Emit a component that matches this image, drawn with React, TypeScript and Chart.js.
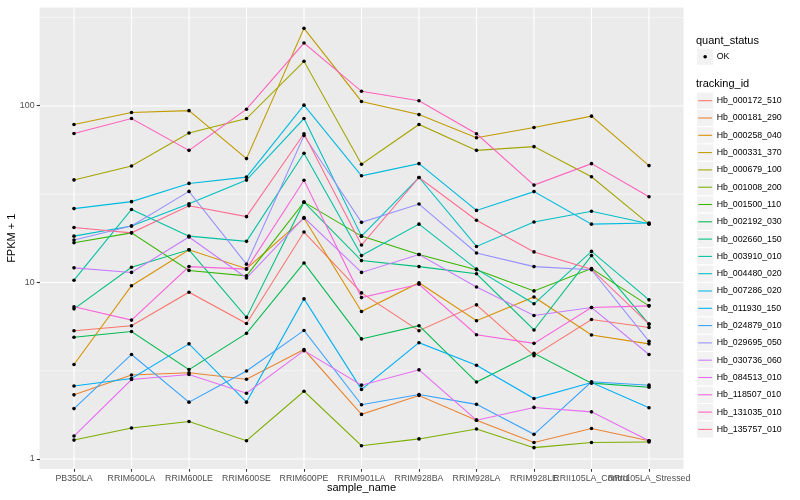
import React, { useEffect, useRef } from "react";
import { Chart, registerables } from "chart.js";

Chart.register(...registerables);

const categories = [
  "PB350LA", "RRIM600LA", "RRIM600LE", "RRIM600SE", "RRIM600PE", "RRIM901LA",
  "RRIM928BA", "RRIM928LA", "RRIM928LE", "RRII105LA_Control", "RRII105LA_Stressed",
];

const yBreaks = [1, 10, 100];
const yMinorBreaks = [3.162, 31.62, 316.2];

const hb_000172_510 = [5.33, 5.69, 8.81, 5.86, 19.3, 8.73, 5.33, 7.47, 3.85, 6.17, 5.56];
const hb_000181_290 = [2.31, 2.99, 3.08, 2.83, 4.17, 1.79, 2.29, 1.66, 1.24, 1.49, 1.27];
const hb_000258_040 = [3.43, 9.59, 15.3, 11.96, 23.1, 6.85, 9.97, 6.07, 8.28, 5.04, 4.49];
const hb_000331_370 = [78.5, 91.7, 94.0, 50.3, 275, 106, 89.3, 66.0, 75.5, 87.5, 45.9];
const hb_000679_100 = [38.1, 45.7, 70.2, 84.8, 179, 46.7, 78.5, 56.0, 58.8, 39.7, 21.4];
const hb_001008_200 = [1.28, 1.50, 1.63, 1.27, 2.42, 1.19, 1.30, 1.48, 1.16, 1.24, 1.25];
const hb_001500_110 = [16.8, 19.1, 11.7, 10.9, 28.5, 18.3, 14.4, 11.8, 8.96, 12.0, 7.37];
const hb_002192_030 = [4.89, 5.28, 3.21, 5.15, 12.9, 4.79, 5.69, 2.73, 3.97, 2.69, 2.55];
const hb_002660_150 = [7.09, 12.2, 15.3, 6.34, 28.5, 13.3, 12.3, 11.2, 5.38, 14.2, 5.81];
const hb_003910_010 = [10.3, 25.9, 18.3, 17.1, 53.9, 14.2, 21.4, 11.9, 7.57, 15.0, 7.97];
const hb_004480_020 = [18.3, 20.9, 27.9, 38.0, 84.8, 18.3, 39.3, 16.0, 22.0, 25.3, 21.5];
const hb_007286_020 = [26.2, 28.7, 36.4, 39.5, 101, 40.2, 47.1, 25.6, 32.7, 21.4, 21.7];
const hb_011930_150 = [2.59, 2.86, 4.49, 2.10, 8.07, 2.48, 4.56, 3.40, 2.20, 2.71, 1.95];
const hb_024879_010 = [1.93, 3.91, 2.10, 3.15, 5.35, 2.03, 2.32, 2.04, 1.38, 2.74, 2.62];
const hb_029695_050 = [17.4, 20.9, 32.8, 12.7, 68.0, 21.9, 27.8, 14.7, 12.3, 11.8, 4.64];
const hb_030736_060 = [12.1, 11.4, 18.1, 10.6, 23.3, 11.4, 14.4, 9.43, 6.50, 7.21, 3.91];
const hb_084513_010 = [1.35, 2.82, 3.01, 2.36, 4.11, 2.62, 3.20, 1.66, 1.96, 1.85, 1.27];
const hb_118507_010 = [7.28, 6.12, 12.3, 11.9, 37.9, 8.21, 9.77, 5.06, 4.52, 7.21, 7.37];
const hb_131035_010 = [69.8, 84.8, 56.0, 95.8, 227, 121, 107, 69.5, 35.6, 47.1, 30.6];
const hb_135757_010 = [20.5, 19.1, 27.2, 23.6, 69.5, 16.3, 39.3, 22.5, 14.9, 11.9, 5.81];

const trackingIds = [
  "Hb_000172_510", "Hb_000181_290", "Hb_000258_040", "Hb_000331_370", "Hb_000679_100",
  "Hb_001008_200", "Hb_001500_110", "Hb_002192_030", "Hb_002660_150", "Hb_003910_010",
  "Hb_004480_020", "Hb_007286_020", "Hb_011930_150", "Hb_024879_010", "Hb_029695_050",
  "Hb_030736_060", "Hb_084513_010", "Hb_118507_010", "Hb_131035_010", "Hb_135757_010",
];

const seriesValues = [
  hb_000172_510, hb_000181_290, hb_000258_040, hb_000331_370, hb_000679_100,
  hb_001008_200, hb_001500_110, hb_002192_030, hb_002660_150, hb_003910_010,
  hb_004480_020, hb_007286_020, hb_011930_150, hb_024879_010, hb_029695_050,
  hb_030736_060, hb_084513_010, hb_118507_010, hb_131035_010, hb_135757_010,
];

const palette = [
  "#F8766D", "#EA8331", "#D89000", "#C09B00", "#A3A500", "#7CAE00", "#39B600",
  "#00BB4E", "#00BF7D", "#00C1A3", "#00BFC4", "#00BAE0", "#00B0F6", "#35A2FF",
  "#9590FF", "#C77CFF", "#E76BF3", "#FA62DB", "#FF62BC", "#FF6C91",
];

const FONT = '"Liberation Sans", Arial, sans-serif';

const ggPlugin = {
  id: "ggStyle",
  beforeDraw(chart: any) {
    const { ctx, chartArea: a, scales } = chart;
    ctx.save();
    ctx.fillStyle = "#FFFFFF";
    ctx.fillRect(0, 0, chart.width, chart.height);
    ctx.fillStyle = "#EBEBEB";
    ctx.fillRect(a.left, a.top, a.right - a.left, a.bottom - a.top);
    ctx.strokeStyle = "#FFFFFF";
    ctx.lineWidth = 0.53;
    for (const v of yMinorBreaks) {
      const y = scales.y.getPixelForValue(v);
      if (y >= a.top && y <= a.bottom) {
        ctx.beginPath(); ctx.moveTo(a.left, y); ctx.lineTo(a.right, y); ctx.stroke();
      }
    }
    ctx.lineWidth = 1.07;
    for (const v of yBreaks) {
      const y = scales.y.getPixelForValue(v);
      ctx.beginPath(); ctx.moveTo(a.left, y); ctx.lineTo(a.right, y); ctx.stroke();
    }
    categories.forEach((_, i) => {
      const x = scales.x.getPixelForValue(i);
      ctx.beginPath(); ctx.moveTo(x, a.top); ctx.lineTo(x, a.bottom); ctx.stroke();
    });
    ctx.restore();
  },
  afterDraw(chart: any) {
    const { ctx, chartArea: a } = chart;
    ctx.save();
    ctx.fillStyle = "#000000";
    ctx.textBaseline = "middle";
    ctx.textAlign = "center";
    ctx.font = `11px ${FONT}`;
    ctx.fillText("sample_name", (a.left + a.right) / 2, 488);
    ctx.save();
    ctx.translate(12, (a.top + a.bottom) / 2);
    ctx.rotate(-Math.PI / 2);
    ctx.fillText("FPKM + 1", 0, 0);
    ctx.restore();

    // legend
    const keyLeft = 696.5;
    const keySize = 17.28;
    ctx.textAlign = "left";
    ctx.font = `11px ${FONT}`;
    ctx.fillText("quant_status", 696, 40.7);
    const okY = 56.7;
    ctx.fillStyle = "#F2F2F2";
    ctx.fillRect(keyLeft, okY - keySize / 2, keySize, keySize);
    ctx.strokeStyle = "#FFFFFF";
    ctx.lineWidth = 1;
    ctx.strokeRect(keyLeft, okY - keySize / 2, keySize, keySize);
    ctx.fillStyle = "#000000";
    ctx.beginPath();
    ctx.arc(keyLeft + keySize / 2, okY, 1.8, 0, Math.PI * 2);
    ctx.fill();
    ctx.font = `8.8px ${FONT}`;
    ctx.fillText("OK", 716.7, okY);

    ctx.font = `11px ${FONT}`;
    ctx.fillText("tracking_id", 696, 84.3);
    ctx.font = `8.8px ${FONT}`;
    trackingIds.forEach((id, i) => {
      const cy = 100.7 + i * 17.3;
      ctx.fillStyle = "#F2F2F2";
      ctx.fillRect(keyLeft, cy - keySize / 2, keySize, keySize);
      ctx.strokeStyle = "#FFFFFF";
      ctx.lineWidth = 1;
      ctx.strokeRect(keyLeft, cy - keySize / 2, keySize, keySize);
      ctx.strokeStyle = palette[i];
      ctx.lineWidth = 1.07;
      ctx.beginPath();
      ctx.moveTo(keyLeft + 1.7, cy);
      ctx.lineTo(keyLeft + keySize - 1.7, cy);
      ctx.stroke();
      ctx.fillStyle = "#000000";
      ctx.fillText(id, 716.7, cy);
    });
    ctx.restore();
  },
};

export default function App() {
  const canvasRef = useRef<HTMLCanvasElement | null>(null);

  useEffect(() => {
    if (!canvasRef.current) return;
    const lineSets = seriesValues.map((vals, i) => ({
      label: trackingIds[i],
      data: vals.map((v, j) => ({ x: j, y: v })),
      borderColor: palette[i],
      backgroundColor: palette[i],
      borderWidth: 1.07,
      pointRadius: 0,
      fill: false,
      tension: 0,
      order: seriesValues.length - i,
    }));
    const pointSet = {
      label: "OK",
      data: seriesValues.flatMap((vals) => vals.map((v, j) => ({ x: j, y: v }))),
      showLine: false,
      pointRadius: 1.8,
      pointBackgroundColor: "#000000",
      pointBorderWidth: 0,
      borderColor: "#000000",
      backgroundColor: "#000000",
      order: -1,
    };
    const tickFont = { family: FONT, size: 8.8 };
    const chart = new Chart(canvasRef.current, {
      type: "line",
      data: { datasets: [...lineSets, pointSet] as any },
      options: {
        animation: false,
        responsive: false,
        events: [],
        layout: { padding: { left: 0, top: 5, right: 116.5, bottom: 0 } },
        plugins: { legend: { display: false }, tooltip: { enabled: false } },
        scales: {
          x: {
            type: "linear",
            min: -0.6,
            max: 10.6,
            afterBuildTicks: (s: any) => {
              s.ticks = categories.map((_, i) => ({ value: i }));
            },
            afterFit: (s: any) => {
              s.height = 31;
            },
            ticks: {
              autoSkip: false,
              maxRotation: 0,
              minRotation: 0,
              padding: 1.8,
              color: "#4D4D4D",
              font: tickFont,
              callback: (v: any) => categories[v] ?? "",
            },
            grid: {
              display: true,
              drawOnChartArea: false,
              drawTicks: true,
              tickLength: 2.75,
              tickColor: "#333333",
              tickWidth: 1.07,
            },
            border: { display: false },
          },
          y: {
            type: "logarithmic",
            min: 0.878,
            max: 361,
            afterBuildTicks: (s: any) => {
              s.ticks = yBreaks.map((v) => ({ value: v }));
            },
            afterFit: (s: any) => {
              s.width = 39.5;
            },
            ticks: {
              padding: 2.2,
              color: "#4D4D4D",
              font: tickFont,
              callback: (v: any) => String(v),
            },
            grid: {
              display: true,
              drawOnChartArea: false,
              drawTicks: true,
              tickLength: 2.75,
              tickColor: "#333333",
              tickWidth: 1.07,
            },
            border: { display: false },
          },
        },
      },
      plugins: [ggPlugin],
    });
    return () => chart.destroy();
  }, []);

  return (
    <div style={{ position: "fixed", left: 0, top: 0, width: 800, height: 500 }}>
      <canvas ref={canvasRef} width={800} height={500} style={{ width: 800, height: 500 }} />
    </div>
  );
}
